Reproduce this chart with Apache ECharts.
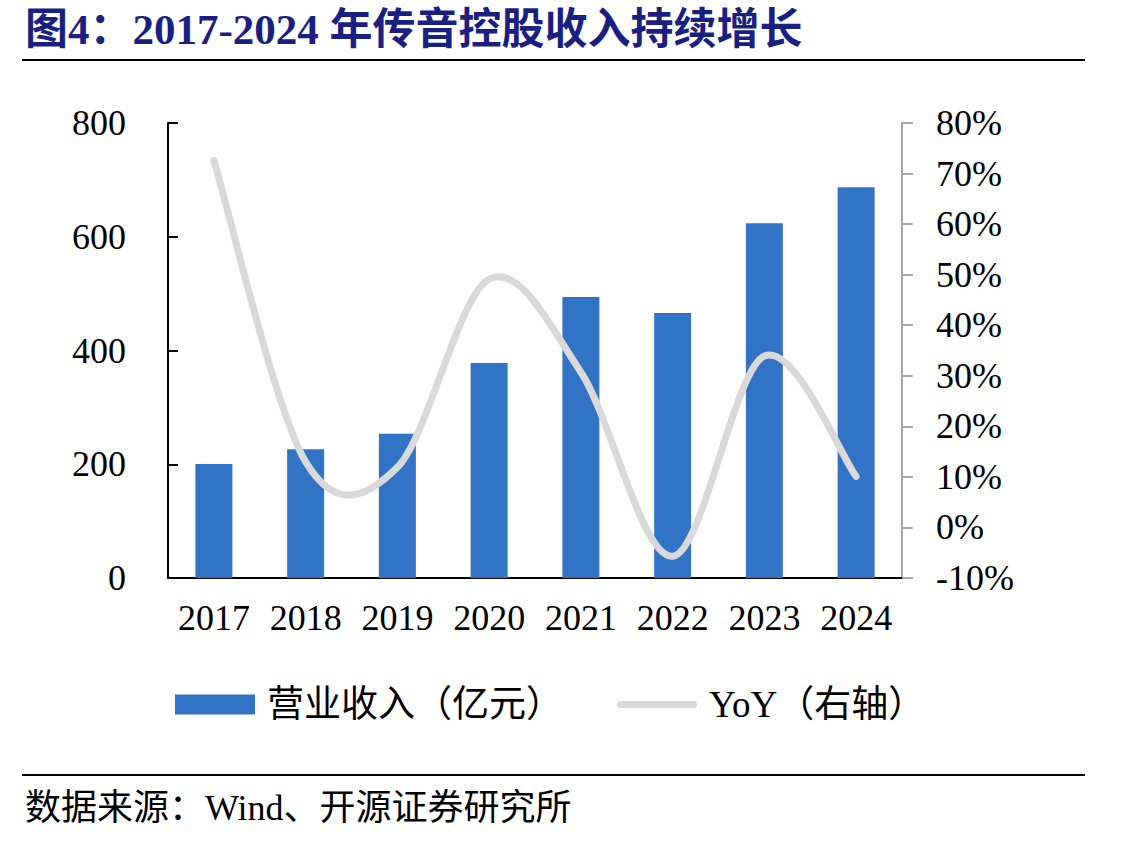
<!DOCTYPE html>
<html><head><meta charset="utf-8">
<script src="https://cdn.jsdelivr.net/npm/echarts@6/dist/echarts.min.js"></script>
<style>html,body{margin:0;padding:0;background:#fff}#c{width:1137px;height:843px}</style>
</head><body><div id="c"></div>
<script>
const categories = ['2017','2018','2019','2020','2021','2022','2023','2024'];
const revenue = [200.4, 226.5, 253.5, 378.0, 494.0, 466.0, 623.9, 687.2];
const yoy = [72.6, 13.0, 11.9, 49.1, 30.7, -5.7, 33.9, 10.1];
const titleText = '图4：2017-2024 年传音控股收入持续增长';
const sourceText = '数据来源：Wind、开源证券研究所';
const barName = '营业收入（亿元）';
const lineName = 'YoY（右轴）';

const serif = '"Liberation Serif","Times New Roman","Noto Sans CJK SC",serif';
const lineColor = '#d9d9d9';

// Smooth (Catmull-Rom style) path through points positioned by the chart's own axes
function renderYoY(params, api) {
  if (params.dataIndex !== 0) return null;
  const pts = yoy.map((v, i) => api.coord([i, v]));
  let d = 'M' + pts[0][0] + ',' + pts[0][1];
  for (let i = 0; i < pts.length - 1; i++) {
    const p0 = pts[Math.max(i - 1, 0)], p1 = pts[i], p2 = pts[i + 1], p3 = pts[Math.min(i + 2, pts.length - 1)];
    const c1 = [p1[0] + (p2[0] - p0[0]) / 6, p1[1] + (p2[1] - p0[1]) / 6];
    const c2 = [p2[0] - (p3[0] - p1[0]) / 6, p2[1] - (p3[1] - p1[1]) / 6];
    d += ' C' + c1[0] + ',' + c1[1] + ' ' + c2[0] + ',' + c2[1] + ' ' + p2[0] + ',' + p2[1];
  }
  return {
    type: 'path',
    shape: { pathData: d },
    style: { fill: 'none', stroke: lineColor, lineWidth: 7, lineCap: 'round', lineJoin: 'round' }
  };
}

const chart = echarts.init(document.getElementById('c'), null, {renderer:'svg'});
chart.setOption({
  animation:false,
  backgroundColor:'#fff',
  title:[
    {text:titleText, left:20, top:3, textStyle:{fontFamily:serif, fontSize:43, fontWeight:'bold', color:'#1a1f82'}},
    {text:sourceText, left:20, top:785, textStyle:{fontFamily:serif, fontSize:36, fontWeight:'normal', color:'#000'}}
  ],
  graphic:[
    {type:'line', shape:{x1:22,y1:60,x2:1085,y2:60}, style:{stroke:'#000', lineWidth:2}},
    {type:'line', shape:{x1:22,y1:775,x2:1085,y2:775}, style:{stroke:'#000', lineWidth:2}}
  ],
  grid:{left:168, right:235, top:123, bottom:265, containLabel:false},
  legend:{
    left:170, top:681, itemWidth:80, itemHeight:20, itemGap:54,
    textStyle:{fontFamily:serif, fontSize:37, color:'#000', padding:[0,0,0,7]},
    data:[
      {name:barName, icon:'rect'},
      {name:lineName, icon:'path://M3.5,0 H76.5 A3.5,3.5 0 0 1 76.5,7 H3.5 A3.5,3.5 0 0 1 3.5,0 Z', itemStyle:{color:lineColor}}
    ]
  },
  xAxis:{
    type:'category', data:categories,
    axisLine:{lineStyle:{color:'#000', width:2}},
    axisTick:{inside:true, length:10, lineStyle:{color:'#000', width:2}},
    axisLabel:{fontFamily:serif, fontSize:36, color:'#000', margin:22, interval:0}
  },
  yAxis:[
    {type:'value', min:0, max:800, interval:200,
     axisLine:{show:true, lineStyle:{color:'#000', width:2}},
     axisTick:{show:true, inside:true, length:10, lineStyle:{color:'#000', width:2}},
     axisLabel:{fontFamily:serif, fontSize:36, color:'#000', margin:42},
     splitLine:{show:false}},
    {type:'value', min:-10, max:80, interval:10, position:'right',
     axisLine:{show:true, lineStyle:{color:'#a6a6a6', width:2}},
     axisTick:{show:true, inside:false, length:11, lineStyle:{color:'#a6a6a6', width:2}},
     axisLabel:{fontFamily:serif, fontSize:36, color:'#000', margin:34, formatter:'{value}%'},
     splitLine:{show:false}}
  ],
  series:[
    {name:barName, type:'bar', data:revenue, barWidth:37, itemStyle:{color:'#3174c6'}, z:2},
    {name:lineName, type:'custom', yAxisIndex:1, data:yoy.map((v,i)=>[i,v]),
     encode:{x:0, y:1}, renderItem:renderYoY, itemStyle:{color:lineColor}, z:3}
  ]
});
</script></body></html>
